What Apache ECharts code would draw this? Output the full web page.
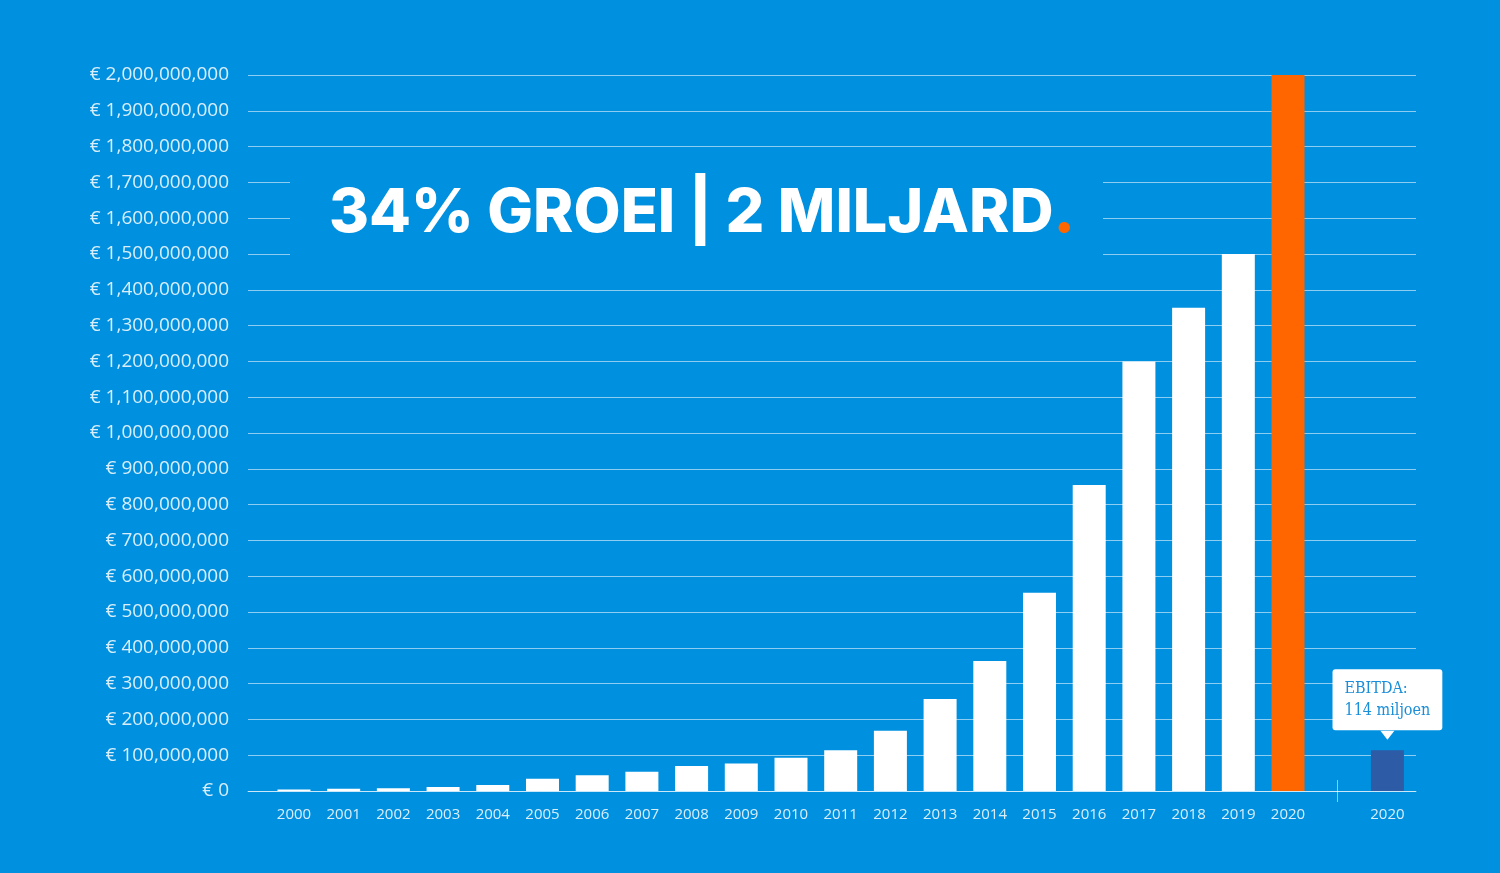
<!DOCTYPE html>
<html>
<head>
<meta charset="utf-8">
<script src="https://cdn.jsdelivr.net/npm/echarts@6/dist/echarts.min.js"></script>
<style>
html,body{margin:0;padding:0;background:#0090e0;}
#chart{width:1500px;height:873px;}
</style>
</head>
<body>
<div id="chart"></div>
<script>
// ---- data ----
const years = ['2000','2001','2002','2003','2004','2005','2006','2007','2008','2009','2010',
               '2011','2012','2013','2014','2015','2016','2017','2018','2019','2020'];
const revenue = [4e6, 6e6, 8e6, 11e6, 17e6, 34e6, 44e6, 54e6, 70e6, 77e6, 93e6,
                 114e6, 168e6, 257e6, 363e6, 554e6, 855e6, 1200e6, 1350e6, 1500e6, 2000e6];
const ebitdaYear = '2020';
const ebitdaValue = 114e6;
const ebitdaText = ['EBITDA:', '114 miljoen'];
const titleMain = '34% GROEI | 2 MILJARD';
const titleDot = '.';

// ---- styles ----
const BG = '#0090e0';
const GRID = 'rgba(255,255,255,0.55)';
const TXT = 'rgba(255,255,255,0.85)';
const ORANGE = '#ff6600';
const DARK = '#2d5ba6';

const ebitdaPos = years.length + 1;   // one empty slot after the revenue bars
const sepPos = years.length;          // separator tick position

const barData = revenue.map((v, i) => ({
  value: [i, v],
  itemStyle: { color: i === revenue.length - 1 ? ORANGE : '#ffffff' }
}));
barData.push({
  value: [ebitdaPos, ebitdaValue],
  itemStyle: { color: DARK },
  label: {
    show: true,
    position: 'top',
    distance: 20,
    formatter: '{a|' + ebitdaText[0] + '}\n{a|' + ebitdaText[1] + '}',
    backgroundColor: '#ffffff',
    borderRadius: 3,
    padding: [9, 12, 8, 12],
    rich: {
      a: { align: 'left', color: '#1a8ed8', fontFamily: '"DejaVu Serif Condensed", "DejaVu Serif"', fontSize: 16, lineHeight: 22 }
    }
  }
});

const labelValues = years.map((_, i) => i).concat([ebitdaPos]);

function xLabel(v) {
  if (v === ebitdaPos) return ebitdaYear;
  return years[v] !== undefined ? years[v] : '';
}

const chart = echarts.init(document.getElementById('chart'));
const xMin = -0.925, xMax = 22.575;
chart.setOption({
  backgroundColor: BG,
  animation: false,
  grid: { left: 248, right: 84, top: 75, bottom: 82, containLabel: false },
  xAxis: [{
    type: 'value', min: xMin, max: xMax,
    splitLine: { show: false },
    axisLine: { show: true, onZero: false, lineStyle: { color: GRID, width: 1 } },
    axisTick: { show: true, customValues: [sepPos], length: 11, inside: false, lineStyle: { color: GRID } },
    axisLabel: { customValues: labelValues, formatter: xLabel, color: TXT, fontFamily: 'Open Sans', fontSize: 15, margin: 16 }
  }, {
    type: 'value', min: xMin, max: xMax, position: 'bottom', offset: 0,
    splitLine: { show: false },
    axisLine: { show: false },
    axisTick: { show: true, customValues: [sepPos], length: 11, inside: true, lineStyle: { color: GRID } },
    axisLabel: { show: false }
  }],
  yAxis: {
    type: 'value', min: 0, max: 2e9, interval: 1e8,
    axisLine: { show: false }, axisTick: { show: false },
    splitLine: { lineStyle: { color: GRID, width: 1 } },
    axisLabel: {
      color: TXT, fontFamily: 'Open Sans', fontSize: 19, margin: 19,
      formatter: v => '€ ' + v.toLocaleString('en-US')
    }
  },
  series: [{
    type: 'bar',
    barWidth: 33,
    data: barData,
    markPoint: {
      silent: true,
      data: [{
        coord: [ebitdaPos, ebitdaValue],
        symbol: 'triangle', symbolRotate: 180, symbolSize: [14, 9], symbolOffset: [0, -15],
        itemStyle: { color: '#ffffff' }, label: { show: false }
      }]
    }
  }],
  graphic: [{
    type: 'group',
    z: 100,
    children: [{
      type: 'rect',
      z: 100,
      shape: { x: 290, y: 160, width: 813, height: 112 },
      style: { fill: BG }
    }, {
      type: 'text',
      z: 101,
      x: 329, y: 214,
      style: {
        text: '{a|' + titleMain + '}{b|' + titleDot + '}',
        verticalAlign: 'middle',
        rich: {
          a: { fill: '#ffffff', fontFamily: 'Inter', fontWeight: 800, fontSize: 61 },
          b: { fill: ORANGE, fontFamily: 'Inter', fontWeight: 800, fontSize: 61 }
        }
      }
    }]
  }]
});
</script>
</body>
</html>
